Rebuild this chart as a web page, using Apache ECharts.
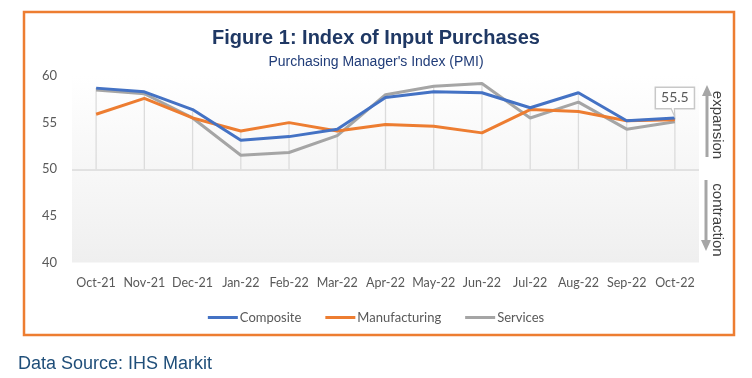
<!DOCTYPE html>
<html>
<head>
<meta charset="utf-8">
<script src="https://cdn.jsdelivr.net/npm/echarts@6/dist/echarts.min.js"></script>
<style>
html,body{margin:0;padding:0;background:#fff;}
#c{width:752px;height:378px;}
</style>
</head>
<body>
<div id="c"></div>
<script>
const categories = ['Oct-21','Nov-21','Dec-21','Jan-22','Feb-22','Mar-22','Apr-22','May-22','Jun-22','Jul-22','Aug-22','Sep-22','Oct-22'];
const composite = [58.7, 58.3, 56.4, 53.1, 53.5, 54.3, 57.7, 58.3, 58.2, 56.6, 58.2, 55.2, 55.5];
const manufacturing = [55.9, 57.6, 55.5, 54.1, 55.0, 54.1, 54.8, 54.6, 53.9, 56.4, 56.2, 55.2, 55.3];
const services = [58.5, 58.1, 55.5, 51.5, 51.8, 53.6, 58.0, 58.9, 59.2, 55.5, 57.2, 54.3, 55.1];
const yTicks = [40, 45, 50, 55, 60];
const threshold = 50;
const calloutValue = 55.5;

const dropTops = categories.map((c, i) => [i, Math.max(composite[i], manufacturing[i], services[i])]);

const chart = echarts.init(document.getElementById('c'));
const labelFont = 'Lato, "Open Sans", sans-serif';

const option = {
  animation: false,
  backgroundColor: '#ffffff',
  title: [
    {text: 'Figure 1: Index of Input Purchases', left: 'center', top: 23,
     textStyle: {fontFamily: 'Liberation Sans, Arial, sans-serif', fontWeight: 'bold', fontSize: 20, color: '#1F3864'}},
    {text: "Purchasing Manager's Index (PMI)", left: 'center', top: 50,
     textStyle: {fontFamily: 'Liberation Sans, Arial, sans-serif', fontWeight: 'normal', fontSize: 14, color: '#203C78'}},
    {text: 'Data Source: IHS Markit', left: 13, top: 350,
     textStyle: {fontFamily: 'Liberation Sans, Arial, sans-serif', fontWeight: 'normal', fontSize: 18, color: '#1F4E79'}}
  ],
  legend: {
    top: 306, left: 'center',
    icon: 'rect',
    itemWidth: 30, itemHeight: 3, itemGap: 24,
    textStyle: {fontFamily: labelFont, fontSize: 13, color: '#595959', padding: [0,0,0,-3]},
    data: ['Composite', 'Manufacturing', 'Services']
  },
  grid: {left: 72, right: 53, top: 76, bottom: 115.5},
  xAxis: {
    type: 'category', data: categories, boundaryGap: true,
    axisLine: {show: false}, axisTick: {show: false},
    axisLabel: {fontFamily: labelFont, fontSize: 12.5, color: '#595959', margin: 14, interval: 0},
    splitLine: {show: false}
  },
  yAxis: {
    type: 'value', min: yTicks[0], max: yTicks[yTicks.length - 1], interval: 5,
    axisLine: {show: false}, axisTick: {show: false},
    axisLabel: {fontFamily: labelFont, fontSize: 13, color: '#595959', margin: 15},
    splitLine: {show: false}
  },
  series: [
    {
      type: 'custom', name: 'drop', silent: true, z: 1,
      data: dropTops,
      renderItem: function (params, api) {
        const p1 = api.coord([api.value(0), api.value(1)]);
        const p2 = api.coord([api.value(0), threshold]);
        return {type: 'line', shape: {x1: p1[0], y1: p1[1], x2: p2[0], y2: p2[1]},
                style: {stroke: '#dcdcdc', lineWidth: 1.3}};
      },
      markArea: {
        silent: true,
        data: [
          [{yAxis: threshold, itemStyle: {color: {type: 'linear', x: 0, y: 0, x2: 0, y2: 1,
              colorStops: [{offset: 0, color: '#ffffff'}, {offset: 1, color: '#f6f6f6'}]}}}, {yAxis: yTicks[yTicks.length - 1]}],
          [{yAxis: yTicks[0], itemStyle: {color: {type: 'linear', x: 0, y: 0, x2: 0, y2: 1,
              colorStops: [{offset: 0, color: '#f8f8f8'}, {offset: 1, color: '#efefef'}]}}}, {yAxis: threshold}]
        ]
      },
      markLine: {
        silent: true, symbol: 'none', label: {show: false},
        lineStyle: {color: '#dadada', width: 1.5, type: 'solid'},
        data: [{yAxis: threshold}]
      }
    },
    {name: 'Services', type: 'line', data: services, symbol: 'none', z: 3,
     lineStyle: {color: '#A5A5A5', width: 3}, itemStyle: {color: '#A5A5A5'}},
    {name: 'Manufacturing', type: 'line', data: manufacturing, symbol: 'none', z: 4,
     lineStyle: {color: '#ED7D31', width: 3}, itemStyle: {color: '#ED7D31'}},
    {name: 'Composite', type: 'line', data: composite, symbol: 'none', z: 5,
     lineStyle: {color: '#4472C4', width: 3}, itemStyle: {color: '#4472C4'},
     markPoint: {
       symbol: 'circle', symbolSize: 2,
       itemStyle: {color: 'rgba(0,0,0,0)'},
       data: [{coord: [categories.length - 1, calloutValue], value: calloutValue}],
       label: {show: true, position: 'top', distance: 9, formatter: String(calloutValue),
               fontFamily: labelFont, fontSize: 14, color: '#595959',
               backgroundColor: '#ffffff', borderColor: '#c8c8c8', borderWidth: 1.5,
               padding: [3, 5, 3, 5]}
     }}
  ]
};
chart.setOption(option);

const tip = chart.convertToPixel({gridIndex: 0}, [categories.length - 1, calloutValue]);
chart.setOption({
  graphic: [
    {type: 'rect', shape: {x: 24, y: 12, width: 710, height: 323},
     style: {fill: 'none', stroke: '#ED7D31', lineWidth: 2.5}, z: 10, silent: true},
    {type: 'polyline', shape: {points: [[tip[0] - 4, tip[1] - 10], [tip[0], tip[1] - 1], [tip[0] - 0.5, tip[1] - 10]]},
     style: {fill: '#ffffff', stroke: '#c8c8c8', lineWidth: 1.2}, z: 20, silent: true},
    {type: 'line', shape: {x1: 707, y1: 157, x2: 707, y2: 95},
     style: {stroke: '#a6a6a6', lineWidth: 3}, silent: true},
    {type: 'polygon', shape: {points: [[702, 96], [707, 85], [712, 96]]},
     style: {fill: '#a6a6a6'}, silent: true},
    {type: 'line', shape: {x1: 706, y1: 180, x2: 706, y2: 241},
     style: {stroke: '#a6a6a6', lineWidth: 3}, silent: true},
    {type: 'polygon', shape: {points: [[701, 240], [706, 251], [711, 240]]},
     style: {fill: '#a6a6a6'}, silent: true},
    {type: 'text', x: 717, y: 125, rotation: -Math.PI / 2,
     style: {text: 'expansion', font: '15px "Liberation Sans", Arial, sans-serif', fill: '#404040',
             align: 'center', verticalAlign: 'middle'}, silent: true},
    {type: 'text', x: 717, y: 220, rotation: -Math.PI / 2,
     style: {text: 'contraction', font: '15px "Liberation Sans", Arial, sans-serif', fill: '#404040',
             align: 'center', verticalAlign: 'middle'}, silent: true}
  ]
});
</script>
</body>
</html>
